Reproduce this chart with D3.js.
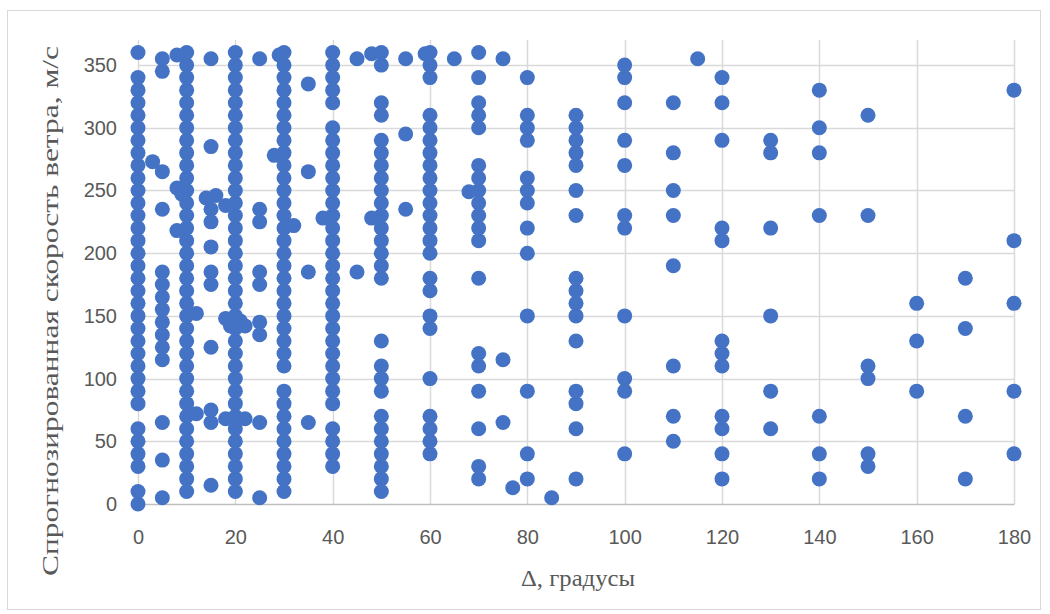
<!DOCTYPE html>
<html>
<head>
<meta charset="utf-8">
<script src="https://cdn.jsdelivr.net/npm/d3@7"></script>
<style>
  body { margin: 0; background: #fff; }
  .tick text { font-family: "Liberation Sans", Arial, sans-serif; font-size: 20px; fill: #595959; }
  .axis-title { font-family: "Liberation Serif", "Times New Roman", serif; font-size: 24px; fill: #595959; }
</style>
</head>
<body>
<svg id="chart"></svg>
<script>
// x tick labels / y tick labels
const xTicks = [0, 20, 40, 60, 80, 100, 120, 140, 160, 180];
const yTicks = [0, 50, 100, 150, 200, 250, 300, 350];

// columns: delta (degrees) and forecast speeds
const deltas = [0, 5, 10, 15, 20, 25, 30, 35, 40, 45, 50, 55, 60, 65, 70, 75, 80, 90, 100, 110, 120, 130, 140, 150, 160, 170, 180];

const speeds0 = [0, 10, 30, 40, 50, 60, 80, 90, 100, 110, 120, 130, 140, 150, 160, 170, 180, 190, 200, 210, 220, 230, 240, 250, 260, 270, 280, 290, 300, 310, 320, 330, 340, 360];
const speeds5 = [5, 35, 65, 115, 125, 135, 145, 155, 165, 175, 185, 235, 265, 345, 355];
const speeds10 = [10, 20, 30, 40, 50, 60, 70, 80, 90, 100, 110, 120, 130, 140, 150, 160, 170, 180, 190, 200, 210, 220, 230, 240, 250, 260, 270, 280, 290, 300, 310, 320, 330, 340, 350, 360];
const speeds15 = [15, 65, 75, 125, 175, 185, 205, 225, 235, 285, 355];
const speeds20 = [10, 20, 30, 40, 50, 60, 70, 80, 90, 100, 110, 120, 130, 140, 150, 160, 170, 180, 190, 200, 210, 220, 230, 240, 250, 260, 270, 280, 290, 300, 310, 320, 330, 340, 350, 360];
const speeds25 = [5, 65, 135, 145, 175, 185, 225, 235, 355];
const speeds30 = [10, 20, 30, 40, 50, 60, 70, 80, 90, 110, 120, 130, 140, 150, 160, 170, 180, 190, 200, 210, 220, 230, 240, 250, 260, 270, 280, 290, 300, 310, 320, 330, 340, 350, 360];
const speeds35 = [65, 185, 265, 335];
const speeds40 = [30, 40, 50, 60, 80, 90, 100, 110, 120, 130, 140, 150, 160, 170, 180, 190, 200, 210, 220, 230, 240, 250, 260, 270, 280, 290, 300, 320, 330, 340, 350, 360];
const speeds45 = [185, 355];
const speeds50 = [10, 20, 30, 40, 50, 60, 70, 90, 100, 110, 130, 180, 190, 200, 210, 220, 230, 240, 250, 260, 270, 280, 290, 310, 320, 350, 360];
const speeds55 = [235, 295, 355];
const speeds60 = [40, 50, 60, 70, 100, 140, 150, 170, 180, 200, 210, 220, 230, 240, 250, 260, 270, 280, 290, 300, 310, 340, 350, 360];
const speeds65 = [355];
const speeds70 = [20, 30, 60, 90, 110, 120, 180, 210, 220, 230, 240, 250, 260, 270, 300, 310, 320, 340, 360];
const speeds75 = [65, 115, 355];
const speeds80 = [20, 40, 90, 150, 200, 220, 240, 250, 260, 290, 300, 310, 340];
const speeds90 = [20, 60, 80, 90, 130, 150, 160, 170, 180, 230, 250, 270, 280, 290, 300, 310];
const speeds100 = [40, 90, 100, 150, 220, 230, 270, 290, 320, 340, 350];
const speeds110 = [50, 70, 110, 190, 230, 250, 280, 320];
const speeds120 = [20, 40, 60, 70, 110, 120, 130, 210, 220, 290, 320, 340];
const speeds130 = [60, 90, 150, 220, 280, 290];
const speeds140 = [20, 40, 70, 230, 280, 300, 330];
const speeds150 = [30, 40, 100, 110, 230, 310];
const speeds160 = [90, 130, 160];
const speeds170 = [20, 70, 140, 180];
const speeds180 = [40, 90, 160, 210, 330];

const speedColumns = [speeds0, speeds5, speeds10, speeds15, speeds20, speeds25, speeds30, speeds35,
  speeds40, speeds45, speeds50, speeds55, speeds60, speeds65, speeds70, speeds75, speeds80, speeds90,
  speeds100, speeds110, speeds120, speeds130, speeds140, speeds150, speeds160, speeds170, speeds180];

// points that sit off the regular columns
const offDelta = [3, 8, 8, 9, 8, 12, 12, 14, 16, 18, 18, 19, 21, 22, 18, 22, 28, 29, 32, 38, 48, 48, 59, 68, 77, 85, 115];
const offSpeed = [273, 358, 252, 247, 218, 152, 72, 244, 246, 238, 148, 142, 146, 142, 68, 68, 278, 358, 222, 228, 228, 359, 359, 249, 13, 5, 355];

class Scatter {

    constructor(_config, _data) {
        this.config = {
            parentElement: _config.parentElement,
            containerWidth: _config.containerWidth || 1050,
            containerHeight: _config.containerHeight || 614,
            margin: { top: 40, bottom: 110, right: 36, left: 138 }
        }
        this.data = _data;
        this.initVis();
    }

    initVis() {
        let vis = this;

        vis.width = vis.config.containerWidth - vis.config.margin.left - vis.config.margin.right;
        vis.height = vis.config.containerHeight - vis.config.margin.top - vis.config.margin.bottom;

        vis.svg = d3.select(vis.config.parentElement)
            .attr('width', vis.config.containerWidth)
            .attr('height', vis.config.containerHeight);

        // outer chart border
        vis.svg.append('rect')
            .attr('x', 7.5).attr('y', 10.5)
            .attr('width', 1033).attr('height', 599)
            .attr('fill', '#fff')
            .attr('stroke', '#d9d9d9');

        vis.chart = vis.svg.append('g')
            .attr('transform', `translate(${vis.config.margin.left},${vis.config.margin.top})`);

        vis.xScale = d3.scaleLinear().domain([0, 180]).range([0, vis.width]);
        vis.yScale = d3.scaleLinear().domain([0, 370]).range([vis.height, 0]);

        vis.xAxis = d3.axisBottom(vis.xScale).tickValues(xTicks).tickSize(0).tickPadding(26);
        vis.yAxis = d3.axisLeft(vis.yScale).tickValues(yTicks).tickSize(0).tickPadding(21);

        vis.gridGroup = vis.chart.append('g').attr('class', 'grid');
        vis.xAxisGroup = vis.chart.append('g')
            .attr('class', 'axis x-axis')
            .attr('transform', `translate(0, ${vis.height})`);
        vis.yAxisGroup = vis.chart.append('g').attr('class', 'axis y-axis');

        // titles: the source image is a bit stretched, so lengths are fixed to match
        vis.svg.append('text')
            .attr('class', 'axis-title')
            .attr('text-anchor', 'middle')
            .attr('textLength', 530)
            .attr('lengthAdjust', 'spacingAndGlyphs')
            .attr('transform', 'translate(58, 311) rotate(-90)')
            .text('Спрогнозированная скорость ветра, м/с');

        vis.svg.append('text')
            .attr('class', 'axis-title')
            .attr('text-anchor', 'middle')
            .attr('textLength', 114)
            .attr('lengthAdjust', 'spacingAndGlyphs')
            .attr('x', 578)
            .attr('y', 586)
            .text('Δ, градусы');

        vis.renderVis();
    }

    renderVis() {
        let vis = this;

        vis.gridGroup.selectAll('.hgrid')
            .data(yTicks.filter(d => d > 0))
            .join('line')
                .attr('class', 'hgrid')
                .attr('x1', 0).attr('x2', vis.width)
                .attr('y1', d => Math.round(vis.yScale(d)) + 0.5)
                .attr('y2', d => Math.round(vis.yScale(d)) + 0.5)
                .attr('stroke', '#d9d9d9').attr('stroke-width', 1.5);

        vis.gridGroup.selectAll('.vgrid')
            .data(xTicks)
            .join('line')
                .attr('class', 'vgrid')
                .attr('x1', d => Math.round(vis.xScale(d)) + 0.5)
                .attr('x2', d => Math.round(vis.xScale(d)) + 0.5)
                .attr('y1', 0).attr('y2', vis.height)
                .attr('stroke', '#d9d9d9').attr('stroke-width', 1.5);

        vis.xAxisGroup.call(vis.xAxis);
        vis.xAxisGroup.select('.domain').attr('stroke', '#bfbfbf').attr('stroke-width', 1.5);
        vis.yAxisGroup.call(vis.yAxis);
        vis.yAxisGroup.select('.domain').remove();

        vis.chart.selectAll('.dot')
            .data(vis.data)
            .join('circle')
                .attr('class', 'dot')
                .attr('cx', d => vis.xScale(d.delta))
                .attr('cy', d => vis.yScale(d.speed))
                .attr('r', 7.5)
                .attr('fill', '#4472c4');
    }
}

const points = [];
deltas.forEach((dx, i) => speedColumns[i].forEach(s => points.push({ delta: dx, speed: s })));
offDelta.forEach((dx, i) => points.push({ delta: dx, speed: offSpeed[i] }));

new Scatter({ parentElement: '#chart' }, points);
</script>
</body>
</html>
